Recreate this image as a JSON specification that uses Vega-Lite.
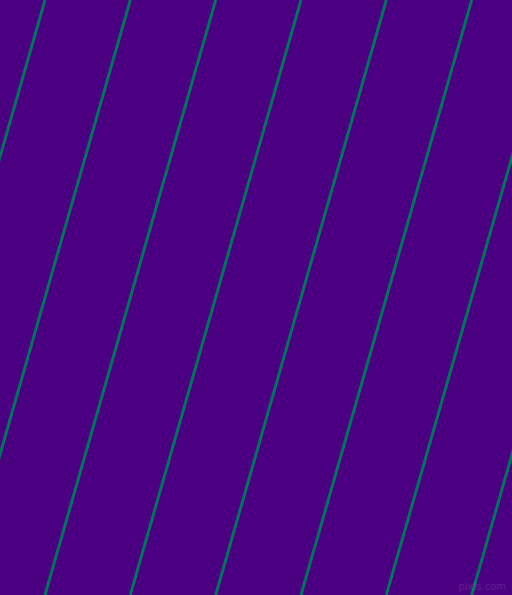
{
  "$schema": "https://vega.github.io/schema/vega-lite/v6.json",
  "width": 512,
  "height": 595,
  "autosize": {"type": "none"},
  "padding": 0,
  "background": "#4B0082",
  "config": {"view": {"stroke": null}},
  "datasets": {
    "stripes": [
      {"id": 0, "x_top": 45, "y_top": 0, "x_bottom": -125.7, "y_bottom": 595},
      {"id": 1, "x_top": 130.3, "y_top": 0, "x_bottom": -40.3, "y_bottom": 595},
      {"id": 2, "x_top": 215.7, "y_top": 0, "x_bottom": 45, "y_bottom": 595},
      {"id": 3, "x_top": 301, "y_top": 0, "x_bottom": 130.3, "y_bottom": 595},
      {"id": 4, "x_top": 386.3, "y_top": 0, "x_bottom": 215.7, "y_bottom": 595},
      {"id": 5, "x_top": 471.7, "y_top": 0, "x_bottom": 301, "y_bottom": 595},
      {"id": 6, "x_top": 557, "y_top": 0, "x_bottom": 386.3, "y_bottom": 595},
      {"id": 7, "x_top": 642.3, "y_top": 0, "x_bottom": 471.7, "y_bottom": 595}
    ],
    "mark_text": [
      {"label": "pixls.com", "x": 506, "y": 587}
    ]
  },
  "layer": [
    {
      "data": {"name": "stripes"},
      "mark": {"type": "rule", "clip": true, "color": "#00755E", "strokeWidth": 3},
      "encoding": {
        "x": {"field": "x_top", "type": "quantitative", "scale": {"domain": [0, 512], "nice": false, "zero": false}, "axis": null},
        "y": {"field": "y_top", "type": "quantitative", "scale": {"domain": [595, 0], "nice": false, "zero": false}, "axis": null},
        "x2": {"field": "x_bottom"},
        "y2": {"field": "y_bottom"}
      }
    },
    {
      "data": {"name": "mark_text"},
      "mark": {"type": "text", "align": "right", "baseline": "middle", "font": "DejaVu Sans", "fontSize": 10, "color": "#ffffff", "opacity": 0.12},
      "encoding": {
        "x": {"field": "x", "type": "quantitative", "scale": {"domain": [0, 512], "nice": false, "zero": false}, "axis": null},
        "y": {"field": "y", "type": "quantitative", "scale": {"domain": [595, 0], "nice": false, "zero": false}, "axis": null},
        "text": {"field": "label"}
      }
    }
  ]
}
